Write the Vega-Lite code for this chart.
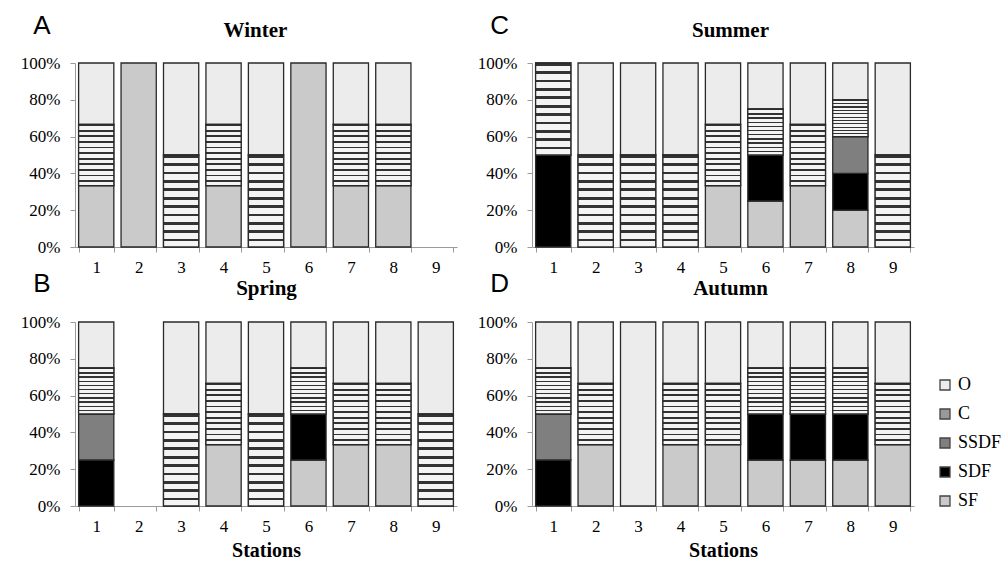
{
  "$schema": "https://vega.github.io/schema/vega-lite/v6.json",
  "background": "white",
  "padding": {"left": 20, "top": 13, "right": 0, "bottom": 0},
  "config": {
    "view": {"stroke": null},
    "axis": {"domainColor": "#9a9a9a", "tickColor": "#9a9a9a", "labelColor": "#000", "labelFont": "Liberation Serif, Times New Roman, serif", "labelFontSize": 17, "grid": false, "tickSize": 5},
    "legend": {"labelFont": "Liberation Serif, Times New Roman, serif"},
    "title": {"font": "Liberation Sans", "fontSize": 26, "fontWeight": "normal", "anchor": "start", "frame": "bounds", "baseline": "alphabetic", "color": "#000"},
    "bar": {"stroke": "#2a2a2a", "strokeWidth": 1.3}
  },
  "data": {"values": [
    {"s": "Winter", "st": "1", "c": "SF", "n": 1}, {"s": "Winter", "st": "1", "c": "C", "n": 1}, {"s": "Winter", "st": "1", "c": "O", "n": 1},
    {"s": "Winter", "st": "2", "c": "SF", "n": 1},
    {"s": "Winter", "st": "3", "c": "C", "n": 1}, {"s": "Winter", "st": "3", "c": "O", "n": 1},
    {"s": "Winter", "st": "4", "c": "SF", "n": 1}, {"s": "Winter", "st": "4", "c": "C", "n": 1}, {"s": "Winter", "st": "4", "c": "O", "n": 1},
    {"s": "Winter", "st": "5", "c": "C", "n": 1}, {"s": "Winter", "st": "5", "c": "O", "n": 1},
    {"s": "Winter", "st": "6", "c": "SF", "n": 1},
    {"s": "Winter", "st": "7", "c": "SF", "n": 1}, {"s": "Winter", "st": "7", "c": "C", "n": 1}, {"s": "Winter", "st": "7", "c": "O", "n": 1},
    {"s": "Winter", "st": "8", "c": "SF", "n": 1}, {"s": "Winter", "st": "8", "c": "C", "n": 1}, {"s": "Winter", "st": "8", "c": "O", "n": 1},

    {"s": "Summer", "st": "1", "c": "SDF", "n": 1}, {"s": "Summer", "st": "1", "c": "C", "n": 1},
    {"s": "Summer", "st": "2", "c": "C", "n": 1}, {"s": "Summer", "st": "2", "c": "O", "n": 1},
    {"s": "Summer", "st": "3", "c": "C", "n": 1}, {"s": "Summer", "st": "3", "c": "O", "n": 1},
    {"s": "Summer", "st": "4", "c": "C", "n": 1}, {"s": "Summer", "st": "4", "c": "O", "n": 1},
    {"s": "Summer", "st": "5", "c": "SF", "n": 1}, {"s": "Summer", "st": "5", "c": "C", "n": 1}, {"s": "Summer", "st": "5", "c": "O", "n": 1},
    {"s": "Summer", "st": "6", "c": "SF", "n": 1}, {"s": "Summer", "st": "6", "c": "SDF", "n": 1}, {"s": "Summer", "st": "6", "c": "C", "n": 1}, {"s": "Summer", "st": "6", "c": "O", "n": 1},
    {"s": "Summer", "st": "7", "c": "SF", "n": 1}, {"s": "Summer", "st": "7", "c": "C", "n": 1}, {"s": "Summer", "st": "7", "c": "O", "n": 1},
    {"s": "Summer", "st": "8", "c": "SF", "n": 1}, {"s": "Summer", "st": "8", "c": "SDF", "n": 1}, {"s": "Summer", "st": "8", "c": "SSDF", "n": 1}, {"s": "Summer", "st": "8", "c": "C", "n": 1}, {"s": "Summer", "st": "8", "c": "O", "n": 1},
    {"s": "Summer", "st": "9", "c": "C", "n": 1}, {"s": "Summer", "st": "9", "c": "O", "n": 1},

    {"s": "Spring", "st": "1", "c": "SDF", "n": 1}, {"s": "Spring", "st": "1", "c": "SSDF", "n": 1}, {"s": "Spring", "st": "1", "c": "C", "n": 1}, {"s": "Spring", "st": "1", "c": "O", "n": 1},
    {"s": "Spring", "st": "3", "c": "C", "n": 1}, {"s": "Spring", "st": "3", "c": "O", "n": 1},
    {"s": "Spring", "st": "4", "c": "SF", "n": 1}, {"s": "Spring", "st": "4", "c": "C", "n": 1}, {"s": "Spring", "st": "4", "c": "O", "n": 1},
    {"s": "Spring", "st": "5", "c": "C", "n": 1}, {"s": "Spring", "st": "5", "c": "O", "n": 1},
    {"s": "Spring", "st": "6", "c": "SF", "n": 1}, {"s": "Spring", "st": "6", "c": "SDF", "n": 1}, {"s": "Spring", "st": "6", "c": "C", "n": 1}, {"s": "Spring", "st": "6", "c": "O", "n": 1},
    {"s": "Spring", "st": "7", "c": "SF", "n": 1}, {"s": "Spring", "st": "7", "c": "C", "n": 1}, {"s": "Spring", "st": "7", "c": "O", "n": 1},
    {"s": "Spring", "st": "8", "c": "SF", "n": 1}, {"s": "Spring", "st": "8", "c": "C", "n": 1}, {"s": "Spring", "st": "8", "c": "O", "n": 1},
    {"s": "Spring", "st": "9", "c": "C", "n": 1}, {"s": "Spring", "st": "9", "c": "O", "n": 1},

    {"s": "Autumn", "st": "1", "c": "SDF", "n": 1}, {"s": "Autumn", "st": "1", "c": "SSDF", "n": 1}, {"s": "Autumn", "st": "1", "c": "C", "n": 1}, {"s": "Autumn", "st": "1", "c": "O", "n": 1},
    {"s": "Autumn", "st": "2", "c": "SF", "n": 1}, {"s": "Autumn", "st": "2", "c": "C", "n": 1}, {"s": "Autumn", "st": "2", "c": "O", "n": 1},
    {"s": "Autumn", "st": "3", "c": "O", "n": 1},
    {"s": "Autumn", "st": "4", "c": "SF", "n": 1}, {"s": "Autumn", "st": "4", "c": "C", "n": 1}, {"s": "Autumn", "st": "4", "c": "O", "n": 1},
    {"s": "Autumn", "st": "5", "c": "SF", "n": 1}, {"s": "Autumn", "st": "5", "c": "C", "n": 1}, {"s": "Autumn", "st": "5", "c": "O", "n": 1},
    {"s": "Autumn", "st": "6", "c": "SF", "n": 1}, {"s": "Autumn", "st": "6", "c": "SDF", "n": 1}, {"s": "Autumn", "st": "6", "c": "C", "n": 1}, {"s": "Autumn", "st": "6", "c": "O", "n": 1},
    {"s": "Autumn", "st": "7", "c": "SF", "n": 1}, {"s": "Autumn", "st": "7", "c": "SDF", "n": 1}, {"s": "Autumn", "st": "7", "c": "C", "n": 1}, {"s": "Autumn", "st": "7", "c": "O", "n": 1},
    {"s": "Autumn", "st": "8", "c": "SF", "n": 1}, {"s": "Autumn", "st": "8", "c": "SDF", "n": 1}, {"s": "Autumn", "st": "8", "c": "C", "n": 1}, {"s": "Autumn", "st": "8", "c": "O", "n": 1},
    {"s": "Autumn", "st": "9", "c": "SF", "n": 1}, {"s": "Autumn", "st": "9", "c": "C", "n": 1}, {"s": "Autumn", "st": "9", "c": "O", "n": 1}
  ]},
  "transform": [
    {"calculate": "indexof(['SF','SDF','SSDF','C','O'], datum.c)", "as": "rank"},
    {"stack": "n", "groupby": ["s", "st"], "sort": [{"field": "rank", "order": "ascending"}], "offset": "normalize", "as": ["y0", "y1"]}
  ],
  "columns": 2,
  "spacing": {"row": -4, "column": 20},
  "resolve": {"legend": {"color": "independent"}},
  "concat": [
    {
      "transform": [{"filter": "datum.s === 'Winter'"}],
      "title": {"text": "A", "dx": 13, "offset": -20},
      "width": 382, "height": 184,
      "encoding": {
        "x": {"field": "st", "type": "ordinal", "scale": {"domain": ["1","2","3","4","5","6","7","8","9"], "paddingInner": 0.17, "paddingOuter": 0.085}, "axis": {"title": null, "labelAngle": 0, "tickBand": "extent", "labelPadding": 7, "labelFont": "Liberation Serif, Times New Roman, serif", "labelFontSize": 17}},
        "y": {"field": "y0", "type": "quantitative", "scale": {"domain": [0, 1]}, "axis": {"values": [0,0.2,0.4,0.6,0.8,1], "format": ".0%", "labelPadding": 10, "labelFont": "Liberation Serif, Times New Roman, serif", "labelFontSize": 17, "title": "Winter", "titleAngle": 0, "titleX": 180, "titleY": -27, "titleAlign": "center", "titleBaseline": "alphabetic", "titleFont": "Liberation Serif", "titleFontSize": 21, "titleFontWeight": "bold"}},
        "y2": {"field": "y1"}
      },
      "layer": [
        {"mark": {"type": "bar"}, "encoding": {"color": {"field": "c", "type": "nominal", "legend": null, "scale": {"domain": ["SF","SDF","SSDF","C","O"], "range": ["#cacaca", "#000000", "#7f7f7f", "#999999", "#ececec"]}}}},
        {"transform": [{"filter": "datum.c === 'C'"}], "mark": {"type": "bar", "fill": {"gradient": "linear", "x1": 0, "y1": 0, "x2": 0, "y2": 1, "stops": [{"offset": 0, "color": "#333"}, {"offset": 0.03, "color": "#333"}, {"offset": 0.03, "color": "#f4f4f4"}, {"offset": 0.0909, "color": "#f4f4f4"}, {"offset": 0.0909, "color": "#333"}, {"offset": 0.1209, "color": "#333"}, {"offset": 0.1209, "color": "#f4f4f4"}, {"offset": 0.1818, "color": "#f4f4f4"}, {"offset": 0.1818, "color": "#333"}, {"offset": 0.2118, "color": "#333"}, {"offset": 0.2118, "color": "#f4f4f4"}, {"offset": 0.2727, "color": "#f4f4f4"}, {"offset": 0.2727, "color": "#333"}, {"offset": 0.3027, "color": "#333"}, {"offset": 0.3027, "color": "#f4f4f4"}, {"offset": 0.3636, "color": "#f4f4f4"}, {"offset": 0.3636, "color": "#333"}, {"offset": 0.3936, "color": "#333"}, {"offset": 0.3936, "color": "#f4f4f4"}, {"offset": 0.4545, "color": "#f4f4f4"}, {"offset": 0.4545, "color": "#333"}, {"offset": 0.4845, "color": "#333"}, {"offset": 0.4845, "color": "#f4f4f4"}, {"offset": 0.5455, "color": "#f4f4f4"}, {"offset": 0.5455, "color": "#333"}, {"offset": 0.5755, "color": "#333"}, {"offset": 0.5755, "color": "#f4f4f4"}, {"offset": 0.6364, "color": "#f4f4f4"}, {"offset": 0.6364, "color": "#333"}, {"offset": 0.6664, "color": "#333"}, {"offset": 0.6664, "color": "#f4f4f4"}, {"offset": 0.7273, "color": "#f4f4f4"}, {"offset": 0.7273, "color": "#333"}, {"offset": 0.7573, "color": "#333"}, {"offset": 0.7573, "color": "#f4f4f4"}, {"offset": 0.8182, "color": "#f4f4f4"}, {"offset": 0.8182, "color": "#333"}, {"offset": 0.8482, "color": "#333"}, {"offset": 0.8482, "color": "#f4f4f4"}, {"offset": 0.9091, "color": "#f4f4f4"}, {"offset": 0.9091, "color": "#333"}, {"offset": 0.9391, "color": "#333"}, {"offset": 0.9391, "color": "#f4f4f4"}, {"offset": 1, "color": "#f4f4f4"}]}}}
      ]
    },
    {
      "transform": [{"filter": "datum.s === 'Summer'"}],
      "title": {"text": "C", "dx": 13, "offset": -20},
      "width": 382, "height": 184,
      "encoding": {
        "x": {"field": "st", "type": "ordinal", "scale": {"domain": ["1","2","3","4","5","6","7","8","9"], "paddingInner": 0.17, "paddingOuter": 0.085}, "axis": {"title": null, "labelAngle": 0, "tickBand": "extent", "labelPadding": 7, "labelFont": "Liberation Serif, Times New Roman, serif", "labelFontSize": 17}},
        "y": {"field": "y0", "type": "quantitative", "scale": {"domain": [0, 1]}, "axis": {"values": [0,0.2,0.4,0.6,0.8,1], "format": ".0%", "labelPadding": 10, "labelFont": "Liberation Serif, Times New Roman, serif", "labelFontSize": 17, "title": "Summer", "titleAngle": 0, "titleX": 198, "titleY": -27, "titleAlign": "center", "titleBaseline": "alphabetic", "titleFont": "Liberation Serif", "titleFontSize": 21, "titleFontWeight": "bold"}},
        "y2": {"field": "y1"}
      },
      "layer": [
        {"mark": {"type": "bar"}, "encoding": {"color": {"field": "c", "type": "nominal", "legend": null}}},
        {"transform": [{"filter": "datum.c === 'C'"}], "mark": {"type": "bar", "fill": {"gradient": "linear", "x1": 0, "y1": 0, "x2": 0, "y2": 1, "stops": [{"offset": 0, "color": "#333"}, {"offset": 0.03, "color": "#333"}, {"offset": 0.03, "color": "#f4f4f4"}, {"offset": 0.0909, "color": "#f4f4f4"}, {"offset": 0.0909, "color": "#333"}, {"offset": 0.1209, "color": "#333"}, {"offset": 0.1209, "color": "#f4f4f4"}, {"offset": 0.1818, "color": "#f4f4f4"}, {"offset": 0.1818, "color": "#333"}, {"offset": 0.2118, "color": "#333"}, {"offset": 0.2118, "color": "#f4f4f4"}, {"offset": 0.2727, "color": "#f4f4f4"}, {"offset": 0.2727, "color": "#333"}, {"offset": 0.3027, "color": "#333"}, {"offset": 0.3027, "color": "#f4f4f4"}, {"offset": 0.3636, "color": "#f4f4f4"}, {"offset": 0.3636, "color": "#333"}, {"offset": 0.3936, "color": "#333"}, {"offset": 0.3936, "color": "#f4f4f4"}, {"offset": 0.4545, "color": "#f4f4f4"}, {"offset": 0.4545, "color": "#333"}, {"offset": 0.4845, "color": "#333"}, {"offset": 0.4845, "color": "#f4f4f4"}, {"offset": 0.5455, "color": "#f4f4f4"}, {"offset": 0.5455, "color": "#333"}, {"offset": 0.5755, "color": "#333"}, {"offset": 0.5755, "color": "#f4f4f4"}, {"offset": 0.6364, "color": "#f4f4f4"}, {"offset": 0.6364, "color": "#333"}, {"offset": 0.6664, "color": "#333"}, {"offset": 0.6664, "color": "#f4f4f4"}, {"offset": 0.7273, "color": "#f4f4f4"}, {"offset": 0.7273, "color": "#333"}, {"offset": 0.7573, "color": "#333"}, {"offset": 0.7573, "color": "#f4f4f4"}, {"offset": 0.8182, "color": "#f4f4f4"}, {"offset": 0.8182, "color": "#333"}, {"offset": 0.8482, "color": "#333"}, {"offset": 0.8482, "color": "#f4f4f4"}, {"offset": 0.9091, "color": "#f4f4f4"}, {"offset": 0.9091, "color": "#333"}, {"offset": 0.9391, "color": "#333"}, {"offset": 0.9391, "color": "#f4f4f4"}, {"offset": 1, "color": "#f4f4f4"}]}}}
      ]
    },
    {
      "transform": [{"filter": "datum.s === 'Spring'"}],
      "title": {"text": "B", "dx": 13, "offset": -20},
      "width": 382, "height": 184,
      "encoding": {
        "x": {"field": "st", "type": "ordinal", "scale": {"domain": ["1","2","3","4","5","6","7","8","9"], "paddingInner": 0.17, "paddingOuter": 0.085}, "axis": {"title": "Stations", "labelAngle": 0, "tickBand": "extent", "labelPadding": 7, "labelFont": "Liberation Serif, Times New Roman, serif", "labelFontSize": 17, "titleFont": "Liberation Serif", "titleFontSize": 20, "titleFontWeight": "bold", "titlePadding": 6}},
        "y": {"field": "y0", "type": "quantitative", "scale": {"domain": [0, 1]}, "axis": {"values": [0,0.2,0.4,0.6,0.8,1], "format": ".0%", "labelPadding": 10, "labelFont": "Liberation Serif, Times New Roman, serif", "labelFontSize": 17, "title": "Spring", "titleAngle": 0, "titleX": 191, "titleY": -28, "titleAlign": "center", "titleBaseline": "alphabetic", "titleFont": "Liberation Serif", "titleFontSize": 21, "titleFontWeight": "bold"}},
        "y2": {"field": "y1"}
      },
      "layer": [
        {"mark": {"type": "bar"}, "encoding": {"color": {"field": "c", "type": "nominal", "legend": null}}},
        {"transform": [{"filter": "datum.c === 'C'"}], "mark": {"type": "bar", "fill": {"gradient": "linear", "x1": 0, "y1": 0, "x2": 0, "y2": 1, "stops": [{"offset": 0, "color": "#333"}, {"offset": 0.03, "color": "#333"}, {"offset": 0.03, "color": "#f4f4f4"}, {"offset": 0.0909, "color": "#f4f4f4"}, {"offset": 0.0909, "color": "#333"}, {"offset": 0.1209, "color": "#333"}, {"offset": 0.1209, "color": "#f4f4f4"}, {"offset": 0.1818, "color": "#f4f4f4"}, {"offset": 0.1818, "color": "#333"}, {"offset": 0.2118, "color": "#333"}, {"offset": 0.2118, "color": "#f4f4f4"}, {"offset": 0.2727, "color": "#f4f4f4"}, {"offset": 0.2727, "color": "#333"}, {"offset": 0.3027, "color": "#333"}, {"offset": 0.3027, "color": "#f4f4f4"}, {"offset": 0.3636, "color": "#f4f4f4"}, {"offset": 0.3636, "color": "#333"}, {"offset": 0.3936, "color": "#333"}, {"offset": 0.3936, "color": "#f4f4f4"}, {"offset": 0.4545, "color": "#f4f4f4"}, {"offset": 0.4545, "color": "#333"}, {"offset": 0.4845, "color": "#333"}, {"offset": 0.4845, "color": "#f4f4f4"}, {"offset": 0.5455, "color": "#f4f4f4"}, {"offset": 0.5455, "color": "#333"}, {"offset": 0.5755, "color": "#333"}, {"offset": 0.5755, "color": "#f4f4f4"}, {"offset": 0.6364, "color": "#f4f4f4"}, {"offset": 0.6364, "color": "#333"}, {"offset": 0.6664, "color": "#333"}, {"offset": 0.6664, "color": "#f4f4f4"}, {"offset": 0.7273, "color": "#f4f4f4"}, {"offset": 0.7273, "color": "#333"}, {"offset": 0.7573, "color": "#333"}, {"offset": 0.7573, "color": "#f4f4f4"}, {"offset": 0.8182, "color": "#f4f4f4"}, {"offset": 0.8182, "color": "#333"}, {"offset": 0.8482, "color": "#333"}, {"offset": 0.8482, "color": "#f4f4f4"}, {"offset": 0.9091, "color": "#f4f4f4"}, {"offset": 0.9091, "color": "#333"}, {"offset": 0.9391, "color": "#333"}, {"offset": 0.9391, "color": "#f4f4f4"}, {"offset": 1, "color": "#f4f4f4"}]}}}
      ]
    },
    {
      "transform": [{"filter": "datum.s === 'Autumn'"}],
      "title": {"text": "D", "dx": 13, "offset": -20},
      "width": 382, "height": 184,
      "encoding": {
        "x": {"field": "st", "type": "ordinal", "scale": {"domain": ["1","2","3","4","5","6","7","8","9"], "paddingInner": 0.17, "paddingOuter": 0.085}, "axis": {"title": "Stations", "labelAngle": 0, "tickBand": "extent", "labelPadding": 7, "labelFont": "Liberation Serif, Times New Roman, serif", "labelFontSize": 17, "titleFont": "Liberation Serif", "titleFontSize": 20, "titleFontWeight": "bold", "titlePadding": 6}},
        "y": {"field": "y0", "type": "quantitative", "scale": {"domain": [0, 1]}, "axis": {"values": [0,0.2,0.4,0.6,0.8,1], "format": ".0%", "labelPadding": 10, "labelFont": "Liberation Serif, Times New Roman, serif", "labelFontSize": 17, "title": "Autumn", "titleAngle": 0, "titleX": 198, "titleY": -28, "titleAlign": "center", "titleBaseline": "alphabetic", "titleFont": "Liberation Serif", "titleFontSize": 21, "titleFontWeight": "bold"}},
        "y2": {"field": "y1"}
      },
      "layer": [
        {"mark": {"type": "bar"}, "encoding": {"color": {"field": "c", "type": "nominal", "legend": {"title": null, "orient": "none", "legendX": 404, "legendY": 54, "values": ["O","C","SSDF","SDF","SF"], "symbolType": "square", "symbolSize": 100, "symbolStrokeColor": "#444", "symbolStrokeWidth": 1, "labelFont": "Liberation Serif, Times New Roman, serif", "labelFontSize": 18, "labelColor": "#000", "rowPadding": 11, "labelOffset": 4}}}},
        {"transform": [{"filter": "datum.c === 'C'"}], "mark": {"type": "bar", "fill": {"gradient": "linear", "x1": 0, "y1": 0, "x2": 0, "y2": 1, "stops": [{"offset": 0, "color": "#333"}, {"offset": 0.03, "color": "#333"}, {"offset": 0.03, "color": "#f4f4f4"}, {"offset": 0.0909, "color": "#f4f4f4"}, {"offset": 0.0909, "color": "#333"}, {"offset": 0.1209, "color": "#333"}, {"offset": 0.1209, "color": "#f4f4f4"}, {"offset": 0.1818, "color": "#f4f4f4"}, {"offset": 0.1818, "color": "#333"}, {"offset": 0.2118, "color": "#333"}, {"offset": 0.2118, "color": "#f4f4f4"}, {"offset": 0.2727, "color": "#f4f4f4"}, {"offset": 0.2727, "color": "#333"}, {"offset": 0.3027, "color": "#333"}, {"offset": 0.3027, "color": "#f4f4f4"}, {"offset": 0.3636, "color": "#f4f4f4"}, {"offset": 0.3636, "color": "#333"}, {"offset": 0.3936, "color": "#333"}, {"offset": 0.3936, "color": "#f4f4f4"}, {"offset": 0.4545, "color": "#f4f4f4"}, {"offset": 0.4545, "color": "#333"}, {"offset": 0.4845, "color": "#333"}, {"offset": 0.4845, "color": "#f4f4f4"}, {"offset": 0.5455, "color": "#f4f4f4"}, {"offset": 0.5455, "color": "#333"}, {"offset": 0.5755, "color": "#333"}, {"offset": 0.5755, "color": "#f4f4f4"}, {"offset": 0.6364, "color": "#f4f4f4"}, {"offset": 0.6364, "color": "#333"}, {"offset": 0.6664, "color": "#333"}, {"offset": 0.6664, "color": "#f4f4f4"}, {"offset": 0.7273, "color": "#f4f4f4"}, {"offset": 0.7273, "color": "#333"}, {"offset": 0.7573, "color": "#333"}, {"offset": 0.7573, "color": "#f4f4f4"}, {"offset": 0.8182, "color": "#f4f4f4"}, {"offset": 0.8182, "color": "#333"}, {"offset": 0.8482, "color": "#333"}, {"offset": 0.8482, "color": "#f4f4f4"}, {"offset": 0.9091, "color": "#f4f4f4"}, {"offset": 0.9091, "color": "#333"}, {"offset": 0.9391, "color": "#333"}, {"offset": 0.9391, "color": "#f4f4f4"}, {"offset": 1, "color": "#f4f4f4"}]}}}
      ]
    }
  ]
}
